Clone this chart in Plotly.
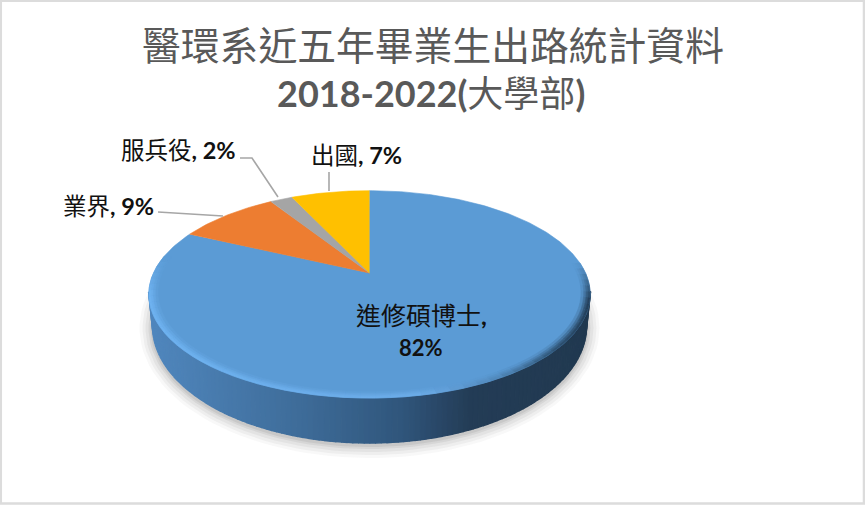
import numpy as np
import plotly.graph_objects as go

# pie values (percent), clockwise from 12 o'clock
categories = ["進修碩博士", "業界", "服兵役", "出國"]
shares = [82, 9, 2, 7]
colors = ["#5b9bd5", "#ed7d31", "#a5a5a5", "#ffc000"]
title_top = "醫環系近五年畢業生出路統計資料"
title_bottom = "<b>2018-2022(</b>大學部<b>)</b>"

FONT = "Lato, 'Noto Sans CJK TC', sans-serif"

# tilted disc: perspective projection of the unit circle to page pixels
APEX_X, APEX_Y = 369.5, 273
SCALE_X, SCALE_Y, TILT = 216, 99.3, 0.206


def project(radius, theta):
    u = radius * np.sin(theta)
    v = radius * np.cos(theta)
    w = 1 + TILT * v
    return APEX_X + SCALE_X * u / w, APEX_Y - SCALE_Y * v / w


def mix(c1, c2, t):
    return "rgb(%d,%d,%d)" % tuple(round(a + (b - a) * t) for a, b in zip(c1, c2))


def ramp(stops, x):
    xs = [s[0] for s in stops]
    return tuple(np.interp(x, xs, [s[1][i] for s in stops]) for i in range(3))


def poly(fig, x, y, color, width=0.6):
    fig.add_trace(go.Scatter(x=x, y=y, mode="lines", fill="toself", fillcolor=color,
                             line=dict(color=color, width=width), hoverinfo="skip", showlegend=False))


fig = go.Figure()

# soft shadow under the disc
for grow, alpha in [(13, 0.05), (10, 0.07), (7, 0.09), (4, 0.12), (2, 0.14)]:
    phi = np.linspace(0, 2 * np.pi, 120)
    color = "rgba(120,120,120,%.2f)" % alpha
    fig.add_trace(go.Scatter(x=369.5 + (217 + grow) * np.cos(phi), y=328 + (117 + grow) * np.sin(phi),
                             mode="lines", fill="toself", fillcolor=color, line=dict(width=0),
                             hoverinfo="skip", showlegend=False))

# side wall, one thin strip per step so that it can carry the gradient
wall_stops = [(150, (80, 135, 190)), (300, (62, 108, 153)), (400, (48, 86, 124)),
              (470, (35, 60, 86)), (590, (33, 57, 80))]
edges = np.linspace(np.pi, 0, 121)
for a, b in zip(edges[:-1], edges[1:]):
    phi = np.linspace(a, b, 4)
    lx = 369.5 + 217 * np.cos(phi)
    ly = 326 + 117 * np.sin(phi)
    ux = 369.5 + 221 * np.cos(phi)
    x = np.concatenate([lx, ux[::-1]])
    y = np.concatenate([ly, np.full(4, 292.0)])
    poly(fig, x, y, mix(ramp(wall_stops, lx.mean()), (0, 0, 0), 0), width=1.5)

# top face
start = 0.0
total = sum(shares)
for share, color in zip(shares, colors):
    end = start + share / total
    theta = np.linspace(start, end, max(int(share * 4), 12)) * 2 * np.pi
    px, py = project(1, theta)
    poly(fig, np.r_[APEX_X, px], np.r_[APEX_Y, py], color)
    start = end

# bevel along the front edge of the disc
base = (91, 155, 213)
rim_stops = [(148, (110, 178, 240)), (420, (108, 172, 232)), (500, (80, 135, 185)),
             (560, (45, 80, 112)), (592, (35, 62, 88))]
rings = [(0.96, 0.972, 0.2), (0.972, 0.982, 0.5), (0.982, 0.991, 0.8), (0.991, 1.0, 1.0)]
RIM_FROM, RIM_TO = 84, 280
angles = np.radians(np.linspace(RIM_FROM, RIM_TO, 61))
for r0, r1, strength in rings:
    for a, b in zip(angles[:-1], angles[1:]):
        theta = np.linspace(a, b, 3)
        ox, oy = project(r1, theta)
        ix, iy = project(r0, theta)
        mid = np.degrees((a + b) / 2)
        fade = min(1, (mid - RIM_FROM) / 22, (RIM_TO - mid) / 22)
        poly(fig, np.r_[ox, ix[::-1]], np.r_[oy, iy[::-1]],
             mix(base, ramp(rim_stops, ox.mean()), strength * fade))

# leader lines
for lx, ly in [([158, 223], [212, 216]), ([240, 252, 278], [158, 158, 197]), ([329, 329], [172, 191])]:
    fig.add_trace(go.Scatter(x=lx, y=ly, mode="lines", line=dict(color="#a6a6a6", width=1.6),
                             hoverinfo="skip", showlegend=False))


def note(x, y, text, size, color="#1a1a1a", anchor="center"):
    fig.add_annotation(x=x, y=y, xref="x", yref="y", text=text, showarrow=False, xanchor=anchor,
                       yanchor="middle", align="center", font=dict(family=FONT, size=size, color=color))


note(432.5, 45, title_top, 38.8, "#595959")
note(431, 92.5, title_bottom, 36, "#595959")
note(421, 315, categories[0] + "<b>,</b>", 25, "#111111")
note(421, 347, "<b>%d%%</b>" % shares[0], 22, "#111111")
note(61, 206, categories[1] + "<b>, %d%%</b>" % shares[1], 23.5, "#111111", anchor="left")
note(119, 150, categories[2] + "<b>, %d%%</b>" % shares[2], 23.5, "#111111", anchor="left")
note(309, 155, categories[3] + "<b>, %d%%</b>" % shares[3], 23.5, "#111111", anchor="left")

fig.update_layout(
    width=865, height=505, margin=dict(l=0, r=0, t=0, b=0), showlegend=False,
    paper_bgcolor="white", plot_bgcolor="white",
    xaxis=dict(range=[0, 865], visible=False, fixedrange=True),
    yaxis=dict(range=[505, 0], visible=False, fixedrange=True),
    shapes=[dict(type="rect", xref="x", yref="y", x0=0.8, y0=0.8, x1=864, y1=503.5,
                 line=dict(color="#dcdcdc", width=2.5), layer="below")],
)
# the page's default body margin would push the figure 8px off
fig.write_html("out.html", config={"displayModeBar": False},
               post_script="document.body.style.margin='0';document.documentElement.style.overflow='hidden';")
